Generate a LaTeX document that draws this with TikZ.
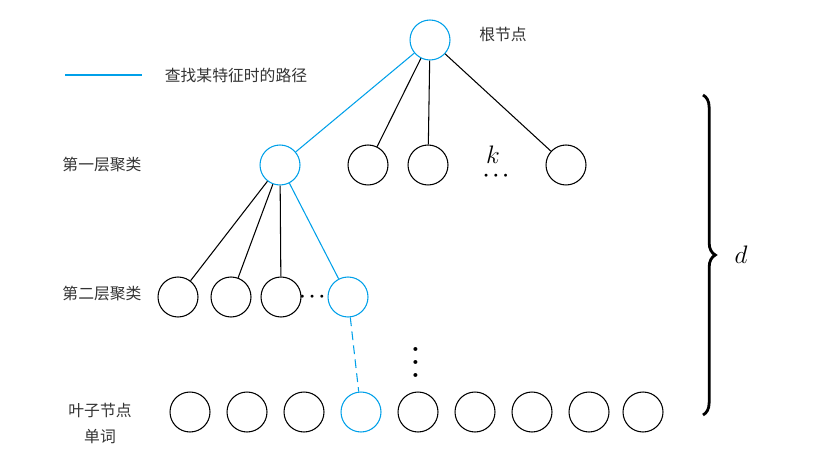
\documentclass[tikz,border=0pt]{standalone}
\usepackage{fontspec}
\usepackage{amsmath}
\newfontfamily\cjk{Noto Sans CJK SC}
\usetikzlibrary{decorations.pathreplacing}

\definecolor{pathblue}{RGB}{0,160,233}
\tikzset{
    cluster/.style={circle, draw, line width=0.6pt, fill=white, minimum size=0.8cm, inner sep=0pt},
    found/.style={cluster, draw=pathblue},
    edge/.style={line width=0.6pt},
    foundedge/.style={line width=0.6pt, draw=pathblue},
    cnlabel/.style={font=\cjk\fontsize{9}{11}\selectfont, text=black!80, inner sep=0pt},
    dotrow/.style={inner sep=0pt, font=\fontsize{11}{11}\selectfont\boldmath}
}

\begin{document}
\begin{tikzpicture}[x=0.02cm, y=-0.02cm]
    \useasboundingbox (0,0) rectangle (824,462);

    % Draw nodes
    \node[found] (root) at (430,40) {};
    \node[found] (a1) at (280,165) {};
    \node[cluster] (a2) at (368,165) {};
    \node[cluster] (a3) at (428,165) {};
    \node[cluster] (ak) at (566,165) {};

    \node[cluster] (b1) at (178,297) {};
    \node[cluster] (b2) at (231,297) {};
    \node[cluster] (b3) at (281,297) {};
    \node[found] (b4) at (348,297) {};

    \node[cluster] (c1) at (190,412) {};
    \node[cluster] (c2) at (247,412) {};
    \node[cluster] (c3) at (304,412) {};
    \node[found] (c4) at (361,412) {};
    \node[cluster] (c5) at (418,412) {};
    \node[cluster] (c6) at (475,412) {};
    \node[cluster] (c7) at (532,412) {};
    \node[cluster] (c8) at (589,412) {};
    \node[cluster] (c9) at (643,412) {};

    % Draw connections
    \draw[foundedge] (root) -- (a1);
    \draw[edge] (root) -- (a2);
    \draw[edge] (root) -- (a3);
    \draw[edge] (root) -- (ak);
    \draw[edge] (a1) -- (b1);
    \draw[edge] (a1) -- (b2);
    \draw[edge] (a1) -- (b3);
    \draw[foundedge] (a1) -- (b4);
    \draw[foundedge, dash pattern=on 5pt off 3pt] (b4) -- (c4);

    % Dots
    \node[inner sep=0pt] (kcount) at (493,155) {\fontsize{14}{16}\selectfont$k$};
    \node[dotrow, anchor=base] (kdots) at (496,181) {$\smash{\cdots}$};
    \node[dotrow] (bdots) at (314,297) {$\cdots$};
    \node[dotrow, rotate=90, font=\fontsize{15}{15}\selectfont\boldmath] (vdots) at (416,360) {$\cdots$};

    % Brace
    \coordinate (btop) at (703,95);
    \coordinate (bbot) at (703,415);
    \draw[line width=1.6pt, decoration={brace, amplitude=7pt}, decorate] (btop) -- (bbot);
    \node (depth) at (741,255) {\fontsize{14}{16}\selectfont$d$};

    % Labels
    \coordinate (lstart) at (65,75);
    \coordinate (lend) at (142,75);
    \draw[foundedge] (lstart) -- (lend);
    \node[cnlabel] (legend) at (236,75) {查找某特征时的路径};
    \node[cnlabel] (rootlab) at (503,34) {根节点};
    \node[cnlabel] (lev1) at (102,165) {第一层聚类};
    \node[cnlabel] (lev2) at (102,294) {第二层聚类};
    \node[cnlabel] (leaflab) at (100,410) {叶子节点};
    \node[cnlabel] (wordlab) at (100,437) {单词};
\end{tikzpicture}
\end{document}
